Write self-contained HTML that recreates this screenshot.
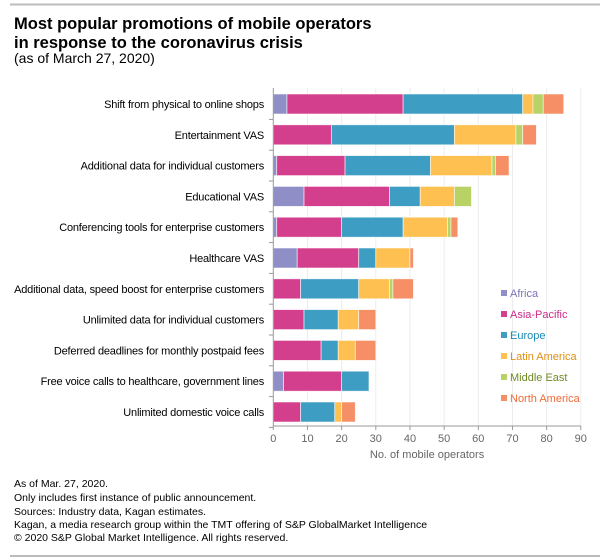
<!DOCTYPE html>
<html><head><meta charset="utf-8">
<style>
body{margin:0;background:#fff;font-family:"Liberation Sans",sans-serif;}
svg{display:block}
</style></head>
<body>
<svg id="chart" width="600" height="560" xmlns="http://www.w3.org/2000/svg">
<line x1="10" y1="4.5" x2="600" y2="4.5" stroke="#bbb" stroke-width="2"/>
<text x="14" y="29" font-size="16.5" font-weight="bold" fill="#000">Most popular promotions of mobile operators</text>
<text x="14" y="48" font-size="16.5" font-weight="bold" fill="#000">in response to the coronavirus crisis</text>
<text x="14" y="63" font-size="14" fill="#000">(as of March 27, 2020)</text>
<g id="grid"></g>
<g id="bars"></g>
<g id="axes"></g>
<g id="legend"></g>
<text x="14" y="487" font-size="10.5" fill="#000">As of Mar. 27, 2020.</text>
<text x="14" y="501" font-size="10.5" fill="#000">Only includes first instance of public announcement.</text>
<text x="14" y="515" font-size="10.5" fill="#000">Sources: Industry data, Kagan estimates.</text>
<text x="14" y="528" font-size="10.5" fill="#000">Kagan, a media research group within the TMT offering of S&amp;P GlobalMarket Intelligence</text>
<text x="14" y="541" font-size="10.5" fill="#000">© 2020 S&amp;P Global Market Intelligence. All rights reserved.</text>
<line x1="10" y1="556" x2="600" y2="556" stroke="#bbb" stroke-width="2"/>
</svg>
<script>
const categories=["Shift from physical to online shops","Entertainment VAS","Additional data for individual customers","Educational VAS","Conferencing tools for enterprise customers","Healthcare VAS","Additional data, speed boost for enterprise customers","Unlimited data for individual customers","Deferred deadlines for monthly postpaid fees","Free voice calls to healthcare, government lines","Unlimited domestic voice calls"];
const seriesNames=["Africa","Asia-Pacific","Europe","Latin America","Middle East","North America"];
const africa=[4,0,1,9,1,7,0,0,0,3,0];
const asiaPacific=[34,17,20,25,19,18,8,9,14,17,8];
const europe=[35,36,25,9,18,5,17,10,5,8,10];
const latinAmerica=[3,18,18,10,13,10,9,6,5,0,2];
const middleEast=[3,2,1,5,1,0,1,0,0,0,0];
const northAmerica=[6,4,4,0,2,1,6,5,6,0,4];
const xTicks=[0,10,20,30,40,50,60,70,80,90];
const series=[africa,asiaPacific,europe,latinAmerica,middleEast,northAmerica];
const colors=["#8f8ec6","#d43f8d","#3d9dc2","#fec050","#b9d266","#f68f66"];
const textColors=["#7a74b8","#cc2a85","#1a8ab5","#e08f10","#6f8a24","#f06b38"];
const NS="http://www.w3.org/2000/svg";
const x0=273.3,x1=580.8,xMax=90,yTop=88,rowH=30.8,barH=20,firstC=104;
const xs=v=>x0+(v/xMax)*(x1-x0);
const yc=i=>firstC+i*rowH;
function mk(tag,attrs,parent){const e=document.createElementNS(NS,tag);for(const k in attrs)e.setAttribute(k,attrs[k]);parent.appendChild(e);return e;}
const grid=document.getElementById('grid'),bars=document.getElementById('bars'),axes=document.getElementById('axes'),legend=document.getElementById('legend');
xTicks.forEach((t,i)=>{
  if(t>0){const g=mk('line',{x1:xs(t),x2:xs(t),y1:yTop,y2:426,stroke:'#ececec','stroke-width':1},grid);
  
  }
  const tk=mk('line',{x1:xs(t),x2:xs(t),y1:426,y2:430,stroke:'#999'},axes);
  
  
  const tl=mk('text',{x:xs(t),y:442,'font-size':11,fill:'#666','text-anchor':'middle'},axes);
  tl.textContent=t;
  
  
});
categories.forEach((c,i)=>{
  let acc=0;
  series.forEach((s,j)=>{
    const v=s[i];if(v<=0)return;
    const r=mk('rect',{x:xs(acc),y:yc(i)-barH/2,width:xs(acc+v)-xs(acc),height:barH,fill:colors[j],stroke:'#fff','stroke-width':0.8,'stroke-opacity':0.7},bars);
    
    
    acc+=v;
  });
  const l=mk('text',{x:264,y:yc(i)+4,'font-size':11,fill:'#000','text-anchor':'end','letter-spacing':'-0.2'},axes);
  l.textContent=c;
  
  
  const ct=mk('line',{x1:269,x2:273,y1:yc(i)+rowH/2,y2:yc(i)+rowH/2,stroke:'#999'},axes);
  
  
});
const ya=mk('line',{x1:x0,x2:x0,y1:yTop,y2:426,stroke:'#999'},axes);


const xa=mk('line',{x1:x0,x2:x1,y1:426,y2:426,stroke:'#999'},axes);


const xt=mk('text',{x:(x0+x1)/2,y:458,'font-size':11,fill:'#666','text-anchor':'middle'},axes);
xt.textContent='No. of mobile operators';


seriesNames.forEach((n,j)=>{
  const y=293+j*21;
  const sw=mk('rect',{x:501,y:y-3,width:6,height:6,fill:colors[j]},legend);
  
  
  const t=mk('text',{x:510,y:y+4,'font-size':11,fill:textColors[j]},legend);
  t.textContent=n;
  
  
});
</script>
</body></html>
